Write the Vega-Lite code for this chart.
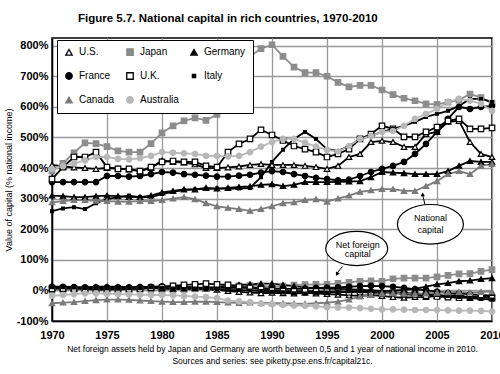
{
"$schema": "https://vega.github.io/schema/vega-lite/v6.json",
"width": 440, "height": 283,
"autosize": {"type": "none"},
"padding": {"left": 52, "top": 38, "right": 8, "bottom": 53},
"background": "white",
"title": {"text": "Figure 5.7. National capital in rich countries, 1970-2010", "anchor": "start", "frame": "group", "dx": 26, "offset": 14, "fontSize": 11.5, "fontWeight": "bold", "color": "black"},
"config": {
  "font": "Liberation Sans Narrow, Liberation Sans, sans-serif",
  "view": {"stroke": "black", "strokeWidth": 1.5},
  "axis": {"gridColor": "#999999", "gridWidth": 1.3, "gridOpacity": 1, "domainColor": "black", "domainWidth": 1.5, "ticks": false, "labelColor": "black", "labelFontWeight": "bold", "labelFontSize": 11, "titleColor": "black"},
  "legend": {"orient": "none", "legendX": 5, "legendY": 2, "columns": 3, "direction": "horizontal", "padding": 7, "strokeColor": "black", "fillColor": "white", "labelFontSize": 10, "labelColor": "black", "symbolSize": 42, "symbolStrokeWidth": 1.3, "rowPadding": 12, "columnPadding": 9, "labelOffset": 5, "gridAlign": "each", "title": null}
},
"datasets": {"main": [
{"c":"U.S.","yr":1970,"n":410,"f":8},{"c":"U.S.","yr":1971,"n":405,"f":7},{"c":"U.S.","yr":1972,"n":402,"f":6},{"c":"U.S.","yr":1973,"n":400,"f":6},{"c":"U.S.","yr":1974,"n":397,"f":6},{"c":"U.S.","yr":1975,"n":400,"f":7},{"c":"U.S.","yr":1976,"n":398,"f":8},{"c":"U.S.","yr":1977,"n":395,"f":7},{"c":"U.S.","yr":1978,"n":390,"f":8},{"c":"U.S.","yr":1979,"n":400,"f":10},
{"c":"U.S.","yr":1980,"n":425,"f":12},{"c":"U.S.","yr":1981,"n":420,"f":12},{"c":"U.S.","yr":1982,"n":418,"f":10},{"c":"U.S.","yr":1983,"n":412,"f":8},{"c":"U.S.","yr":1984,"n":400,"f":5},{"c":"U.S.","yr":1985,"n":400,"f":2},{"c":"U.S.","yr":1986,"n":402,"f":-2},{"c":"U.S.","yr":1987,"n":405,"f":-5},{"c":"U.S.","yr":1988,"n":410,"f":-7},{"c":"U.S.","yr":1989,"n":413,"f":-9},
{"c":"U.S.","yr":1990,"n":410,"f":-8},{"c":"U.S.","yr":1991,"n":410,"f":-9},{"c":"U.S.","yr":1992,"n":410,"f":-10},{"c":"U.S.","yr":1993,"n":407,"f":-8},{"c":"U.S.","yr":1994,"n":403,"f":-10},{"c":"U.S.","yr":1995,"n":397,"f":-12},{"c":"U.S.","yr":1996,"n":407,"f":-14},{"c":"U.S.","yr":1997,"n":436,"f":-16},{"c":"U.S.","yr":1998,"n":446,"f":-18},{"c":"U.S.","yr":1999,"n":485,"f":-15},
{"c":"U.S.","yr":2000,"n":489,"f":-18},{"c":"U.S.","yr":2001,"n":485,"f":-22},{"c":"U.S.","yr":2002,"n":469,"f":-24},{"c":"U.S.","yr":2003,"n":469,"f":-22},{"c":"U.S.","yr":2004,"n":511,"f":-22},{"c":"U.S.","yr":2005,"n":518,"f":-18},{"c":"U.S.","yr":2006,"n":551,"f":-18},{"c":"U.S.","yr":2007,"n":554,"f":-14},{"c":"U.S.","yr":2008,"n":485,"f":-25},{"c":"U.S.","yr":2009,"n":446,"f":-22},{"c":"U.S.","yr":2010,"n":436,"f":-20},

{"c":"Japan","yr":1970,"n":390,"f":0},{"c":"Japan","yr":1971,"n":415,"f":1},{"c":"Japan","yr":1972,"n":450,"f":2},{"c":"Japan","yr":1973,"n":482,"f":1},{"c":"Japan","yr":1974,"n":480,"f":0},{"c":"Japan","yr":1975,"n":470,"f":0},{"c":"Japan","yr":1976,"n":456,"f":1},{"c":"Japan","yr":1977,"n":452,"f":2},{"c":"Japan","yr":1978,"n":452,"f":2},{"c":"Japan","yr":1979,"n":480,"f":1},
{"c":"Japan","yr":1980,"n":515,"f":0},{"c":"Japan","yr":1981,"n":538,"f":1},{"c":"Japan","yr":1982,"n":554,"f":3},{"c":"Japan","yr":1983,"n":564,"f":5},{"c":"Japan","yr":1984,"n":556,"f":7},{"c":"Japan","yr":1985,"n":575,"f":10},{"c":"Japan","yr":1986,"n":640,"f":13},{"c":"Japan","yr":1987,"n":715,"f":15},{"c":"Japan","yr":1988,"n":765,"f":16},{"c":"Japan","yr":1989,"n":790,"f":15},
{"c":"Japan","yr":1990,"n":803,"f":12},{"c":"Japan","yr":1991,"n":765,"f":14},{"c":"Japan","yr":1992,"n":730,"f":17},{"c":"Japan","yr":1993,"n":712,"f":19},{"c":"Japan","yr":1994,"n":712,"f":20},{"c":"Japan","yr":1995,"n":700,"f":20},{"c":"Japan","yr":1996,"n":680,"f":23},{"c":"Japan","yr":1997,"n":665,"f":26},{"c":"Japan","yr":1998,"n":670,"f":30},{"c":"Japan","yr":1999,"n":670,"f":31},
{"c":"Japan","yr":2000,"n":655,"f":30},{"c":"Japan","yr":2001,"n":640,"f":38},{"c":"Japan","yr":2002,"n":628,"f":40},{"c":"Japan","yr":2003,"n":620,"f":40},{"c":"Japan","yr":2004,"n":610,"f":40},{"c":"Japan","yr":2005,"n":608,"f":44},{"c":"Japan","yr":2006,"n":615,"f":49},{"c":"Japan","yr":2007,"n":622,"f":54},{"c":"Japan","yr":2008,"n":642,"f":55},{"c":"Japan","yr":2009,"n":630,"f":62},{"c":"Japan","yr":2010,"n":612,"f":68},

{"c":"Germany","yr":1970,"n":310,"f":8},{"c":"Germany","yr":1971,"n":308,"f":8},{"c":"Germany","yr":1972,"n":305,"f":9},{"c":"Germany","yr":1973,"n":305,"f":10},{"c":"Germany","yr":1974,"n":308,"f":12},{"c":"Germany","yr":1975,"n":310,"f":12},{"c":"Germany","yr":1976,"n":308,"f":12},{"c":"Germany","yr":1977,"n":305,"f":11},{"c":"Germany","yr":1978,"n":305,"f":11},{"c":"Germany","yr":1979,"n":310,"f":9},
{"c":"Germany","yr":1980,"n":320,"f":6},{"c":"Germany","yr":1981,"n":325,"f":5},{"c":"Germany","yr":1982,"n":330,"f":6},{"c":"Germany","yr":1983,"n":330,"f":7},{"c":"Germany","yr":1984,"n":335,"f":9},{"c":"Germany","yr":1985,"n":333,"f":11},{"c":"Germany","yr":1986,"n":335,"f":15},{"c":"Germany","yr":1987,"n":338,"f":18},{"c":"Germany","yr":1988,"n":340,"f":20},{"c":"Germany","yr":1989,"n":345,"f":22},
{"c":"Germany","yr":1990,"n":347,"f":22},{"c":"Germany","yr":1991,"n":341,"f":18},{"c":"Germany","yr":1992,"n":345,"f":14},{"c":"Germany","yr":1993,"n":354,"f":10},{"c":"Germany","yr":1994,"n":354,"f":8},{"c":"Germany","yr":1995,"n":354,"f":5},{"c":"Germany","yr":1996,"n":355,"f":5},{"c":"Germany","yr":1997,"n":356,"f":4},{"c":"Germany","yr":1998,"n":357,"f":2},{"c":"Germany","yr":1999,"n":370,"f":0},
{"c":"Germany","yr":2000,"n":387,"f":-2},{"c":"Germany","yr":2001,"n":385,"f":-1},{"c":"Germany","yr":2002,"n":383,"f":2},{"c":"Germany","yr":2003,"n":380,"f":5},{"c":"Germany","yr":2004,"n":380,"f":12},{"c":"Germany","yr":2005,"n":380,"f":20},{"c":"Germany","yr":2006,"n":390,"f":24},{"c":"Germany","yr":2007,"n":407,"f":30},{"c":"Germany","yr":2008,"n":423,"f":32},{"c":"Germany","yr":2009,"n":420,"f":37},{"c":"Germany","yr":2010,"n":420,"f":40},

{"c":"France","yr":1970,"n":354,"f":12},{"c":"France","yr":1971,"n":354,"f":12},{"c":"France","yr":1972,"n":354,"f":11},{"c":"France","yr":1973,"n":354,"f":10},{"c":"France","yr":1974,"n":354,"f":10},{"c":"France","yr":1975,"n":374,"f":10},{"c":"France","yr":1976,"n":374,"f":10},{"c":"France","yr":1977,"n":372,"f":10},{"c":"France","yr":1978,"n":374,"f":11},{"c":"France","yr":1979,"n":380,"f":12},
{"c":"France","yr":1980,"n":387,"f":13},{"c":"France","yr":1981,"n":385,"f":14},{"c":"France","yr":1982,"n":380,"f":12},{"c":"France","yr":1983,"n":378,"f":10},{"c":"France","yr":1984,"n":375,"f":9},{"c":"France","yr":1985,"n":372,"f":8},{"c":"France","yr":1986,"n":372,"f":8},{"c":"France","yr":1987,"n":375,"f":9},{"c":"France","yr":1988,"n":378,"f":8},{"c":"France","yr":1989,"n":385,"f":7},
{"c":"France","yr":1990,"n":390,"f":6},{"c":"France","yr":1991,"n":387,"f":5},{"c":"France","yr":1992,"n":380,"f":5},{"c":"France","yr":1993,"n":374,"f":6},{"c":"France","yr":1994,"n":368,"f":8},{"c":"France","yr":1995,"n":364,"f":9},{"c":"France","yr":1996,"n":360,"f":10},{"c":"France","yr":1997,"n":362,"f":12},{"c":"France","yr":1998,"n":374,"f":14},{"c":"France","yr":1999,"n":387,"f":15},
{"c":"France","yr":2000,"n":397,"f":14},{"c":"France","yr":2001,"n":407,"f":12},{"c":"France","yr":2002,"n":420,"f":8},{"c":"France","yr":2003,"n":446,"f":4},{"c":"France","yr":2004,"n":479,"f":0},{"c":"France","yr":2005,"n":518,"f":-4},{"c":"France","yr":2006,"n":561,"f":-8},{"c":"France","yr":2007,"n":600,"f":-10},{"c":"France","yr":2008,"n":593,"f":-13},{"c":"France","yr":2009,"n":600,"f":-15},{"c":"France","yr":2010,"n":603,"f":-17},

{"c":"U.K.","yr":1970,"n":364,"f":5},{"c":"U.K.","yr":1971,"n":403,"f":6},{"c":"U.K.","yr":1972,"n":436,"f":6},{"c":"U.K.","yr":1973,"n":436,"f":5},{"c":"U.K.","yr":1974,"n":452,"f":3},{"c":"U.K.","yr":1975,"n":403,"f":3},{"c":"U.K.","yr":1976,"n":397,"f":4},{"c":"U.K.","yr":1977,"n":397,"f":4},{"c":"U.K.","yr":1978,"n":390,"f":6},{"c":"U.K.","yr":1979,"n":403,"f":8},
{"c":"U.K.","yr":1980,"n":420,"f":10},{"c":"U.K.","yr":1981,"n":423,"f":15},{"c":"U.K.","yr":1982,"n":420,"f":18},{"c":"U.K.","yr":1983,"n":420,"f":20},{"c":"U.K.","yr":1984,"n":407,"f":22},{"c":"U.K.","yr":1985,"n":403,"f":20},{"c":"U.K.","yr":1986,"n":452,"f":18},{"c":"U.K.","yr":1987,"n":479,"f":12},{"c":"U.K.","yr":1988,"n":495,"f":8},{"c":"U.K.","yr":1989,"n":525,"f":4},
{"c":"U.K.","yr":1990,"n":508,"f":0},{"c":"U.K.","yr":1991,"n":490,"f":-2},{"c":"U.K.","yr":1992,"n":472,"f":-3},{"c":"U.K.","yr":1993,"n":462,"f":-2},{"c":"U.K.","yr":1994,"n":452,"f":-3},{"c":"U.K.","yr":1995,"n":436,"f":-4},{"c":"U.K.","yr":1996,"n":446,"f":-5},{"c":"U.K.","yr":1997,"n":462,"f":-6},{"c":"U.K.","yr":1998,"n":495,"f":-4},{"c":"U.K.","yr":1999,"n":511,"f":-8},
{"c":"U.K.","yr":2000,"n":538,"f":-10},{"c":"U.K.","yr":2001,"n":528,"f":-8},{"c":"U.K.","yr":2002,"n":502,"f":-12},{"c":"U.K.","yr":2003,"n":502,"f":-15},{"c":"U.K.","yr":2004,"n":518,"f":-17},{"c":"U.K.","yr":2005,"n":534,"f":-20},{"c":"U.K.","yr":2006,"n":554,"f":-22},{"c":"U.K.","yr":2007,"n":561,"f":-24},{"c":"U.K.","yr":2008,"n":528,"f":-20},{"c":"U.K.","yr":2009,"n":528,"f":-22},{"c":"U.K.","yr":2010,"n":531,"f":-25},

{"c":"Italy","yr":1970,"n":259,"f":10},{"c":"Italy","yr":1971,"n":268,"f":10},{"c":"Italy","yr":1972,"n":272,"f":9},{"c":"Italy","yr":1973,"n":266,"f":8},{"c":"Italy","yr":1974,"n":285,"f":6},{"c":"Italy","yr":1975,"n":298,"f":6},{"c":"Italy","yr":1976,"n":305,"f":5},{"c":"Italy","yr":1977,"n":310,"f":7},{"c":"Italy","yr":1978,"n":305,"f":8},{"c":"Italy","yr":1979,"n":305,"f":10},
{"c":"Italy","yr":1980,"n":315,"f":8},{"c":"Italy","yr":1981,"n":322,"f":6},{"c":"Italy","yr":1982,"n":328,"f":5},{"c":"Italy","yr":1983,"n":330,"f":5},{"c":"Italy","yr":1984,"n":332,"f":4},{"c":"Italy","yr":1985,"n":333,"f":3},{"c":"Italy","yr":1986,"n":333,"f":2},{"c":"Italy","yr":1987,"n":333,"f":1},{"c":"Italy","yr":1988,"n":335,"f":0},{"c":"Italy","yr":1989,"n":370,"f":-2},
{"c":"Italy","yr":1990,"n":420,"f":-4},{"c":"Italy","yr":1991,"n":460,"f":-6},{"c":"Italy","yr":1992,"n":495,"f":-9},{"c":"Italy","yr":1993,"n":518,"f":-10},{"c":"Italy","yr":1994,"n":495,"f":-8},{"c":"Italy","yr":1995,"n":462,"f":-7},{"c":"Italy","yr":1996,"n":456,"f":-5},{"c":"Italy","yr":1997,"n":472,"f":-3},{"c":"Italy","yr":1998,"n":495,"f":-2},{"c":"Italy","yr":1999,"n":505,"f":-3},
{"c":"Italy","yr":2000,"n":518,"f":-5},{"c":"Italy","yr":2001,"n":528,"f":-6},{"c":"Italy","yr":2002,"n":538,"f":-8},{"c":"Italy","yr":2003,"n":551,"f":-10},{"c":"Italy","yr":2004,"n":567,"f":-12},{"c":"Italy","yr":2005,"n":577,"f":-15},{"c":"Italy","yr":2006,"n":587,"f":-18},{"c":"Italy","yr":2007,"n":603,"f":-22},{"c":"Italy","yr":2008,"n":626,"f":-25},{"c":"Italy","yr":2009,"n":626,"f":-28},{"c":"Italy","yr":2010,"n":616,"f":-30},

{"c":"Canada","yr":1970,"n":288,"f":-42},{"c":"Canada","yr":1971,"n":292,"f":-40},{"c":"Canada","yr":1972,"n":295,"f":-38},{"c":"Canada","yr":1973,"n":295,"f":-35},{"c":"Canada","yr":1974,"n":293,"f":-32},{"c":"Canada","yr":1975,"n":292,"f":-30},{"c":"Canada","yr":1976,"n":290,"f":-30},{"c":"Canada","yr":1977,"n":290,"f":-31},{"c":"Canada","yr":1978,"n":292,"f":-33},{"c":"Canada","yr":1979,"n":292,"f":-35},
{"c":"Canada","yr":1980,"n":295,"f":-37},{"c":"Canada","yr":1981,"n":300,"f":-38},{"c":"Canada","yr":1982,"n":305,"f":-38},{"c":"Canada","yr":1983,"n":298,"f":-37},{"c":"Canada","yr":1984,"n":285,"f":-37},{"c":"Canada","yr":1985,"n":275,"f":-38},{"c":"Canada","yr":1986,"n":270,"f":-40},{"c":"Canada","yr":1987,"n":266,"f":-41},{"c":"Canada","yr":1988,"n":260,"f":-40},{"c":"Canada","yr":1989,"n":266,"f":-41},
{"c":"Canada","yr":1990,"n":275,"f":-42},{"c":"Canada","yr":1991,"n":285,"f":-42},{"c":"Canada","yr":1992,"n":288,"f":-43},{"c":"Canada","yr":1993,"n":295,"f":-44},{"c":"Canada","yr":1994,"n":298,"f":-42},{"c":"Canada","yr":1995,"n":290,"f":-40},{"c":"Canada","yr":1996,"n":300,"f":-37},{"c":"Canada","yr":1997,"n":310,"f":-30},{"c":"Canada","yr":1998,"n":322,"f":-20},{"c":"Canada","yr":1999,"n":327,"f":-15},
{"c":"Canada","yr":2000,"n":331,"f":-10},{"c":"Canada","yr":2001,"n":331,"f":-9},{"c":"Canada","yr":2002,"n":325,"f":-10},{"c":"Canada","yr":2003,"n":325,"f":-11},{"c":"Canada","yr":2004,"n":341,"f":-10},{"c":"Canada","yr":2005,"n":357,"f":-8},{"c":"Canada","yr":2006,"n":380,"f":-6},{"c":"Canada","yr":2007,"n":390,"f":-5},{"c":"Canada","yr":2008,"n":380,"f":-7},{"c":"Canada","yr":2009,"n":407,"f":-5},{"c":"Canada","yr":2010,"n":413,"f":-4},

{"c":"Australia","yr":1970,"n":397,"f":-18},{"c":"Australia","yr":1971,"n":407,"f":-15},{"c":"Australia","yr":1972,"n":415,"f":-12},{"c":"Australia","yr":1973,"n":425,"f":-10},{"c":"Australia","yr":1974,"n":436,"f":-10},{"c":"Australia","yr":1975,"n":436,"f":-11},{"c":"Australia","yr":1976,"n":430,"f":-12},{"c":"Australia","yr":1977,"n":428,"f":-13},{"c":"Australia","yr":1978,"n":432,"f":-14},{"c":"Australia","yr":1979,"n":440,"f":-15},
{"c":"Australia","yr":1980,"n":452,"f":-15},{"c":"Australia","yr":1981,"n":450,"f":-16},{"c":"Australia","yr":1982,"n":448,"f":-18},{"c":"Australia","yr":1983,"n":446,"f":-20},{"c":"Australia","yr":1984,"n":440,"f":-22},{"c":"Australia","yr":1985,"n":440,"f":-25},{"c":"Australia","yr":1986,"n":438,"f":-33},{"c":"Australia","yr":1987,"n":440,"f":-36},{"c":"Australia","yr":1988,"n":452,"f":-38},{"c":"Australia","yr":1989,"n":470,"f":-43},
{"c":"Australia","yr":1990,"n":485,"f":-45},{"c":"Australia","yr":1991,"n":495,"f":-47},{"c":"Australia","yr":1992,"n":495,"f":-49},{"c":"Australia","yr":1993,"n":483,"f":-50},{"c":"Australia","yr":1994,"n":470,"f":-52},{"c":"Australia","yr":1995,"n":459,"f":-55},{"c":"Australia","yr":1996,"n":454,"f":-56},{"c":"Australia","yr":1997,"n":472,"f":-56},{"c":"Australia","yr":1998,"n":495,"f":-58},{"c":"Australia","yr":1999,"n":505,"f":-60},
{"c":"Australia","yr":2000,"n":518,"f":-62},{"c":"Australia","yr":2001,"n":521,"f":-62},{"c":"Australia","yr":2002,"n":538,"f":-63},{"c":"Australia","yr":2003,"n":561,"f":-64},{"c":"Australia","yr":2004,"n":577,"f":-64},{"c":"Australia","yr":2005,"n":593,"f":-64},{"c":"Australia","yr":2006,"n":616,"f":-65},{"c":"Australia","yr":2007,"n":626,"f":-66},{"c":"Australia","yr":2008,"n":620,"f":-66},{"c":"Australia","yr":2009,"n":610,"f":-67},{"c":"Australia","yr":2010,"n":587,"f":-69}
]},
"layer": [
  {
    "data": {"name": "main"},
    "transform": [{"fold": ["n", "f"], "as": ["kind", "val"]}],
    "encoding": {
      "x": {"field": "yr", "type": "quantitative", "scale": {"domain": [1970, 2010], "nice": false, "zero": false},
            "axis": {"values": [1970,1975,1980,1985,1990,1995,2000,2005,2010], "tickCount": 12, "format": "d", "labelPadding": 8, "labelFlush": false, "labelOverlap": false,
                     "title": ["Net foreign assets held by Japan and Germany are worth between 0,5 and 1 year of national income in 2010.", "Sources and series: see piketty.pse.ens.fr/capital21c."],
                     "titleFontSize": 8.5, "titleFontWeight": "normal", "titlePadding": 4, "titleLineHeight": 12}},
      "y": {"field": "val", "type": "quantitative", "scale": {"domain": [-100, 825], "nice": false, "zero": false},
            "axis": {"values": [-100,0,100,200,300,400,500,600,700,800], "tickCount": 12, "labelExpr": "datum.value + '%'", "labelPadding": 4, "labelOverlap": false,
                     "title": "Value of capital (% national income)", "titleFontSize": 9, "titleFontWeight": "normal", "titlePadding": 3}},
      "stroke": {"field": "c", "type": "nominal", "scale": {"domain": ["U.S.","Japan","Germany","France","U.K.","Italy","Canada","Australia"], "range": ["#000000","#8c8c8c","#000000","#000000","#000000","#000000","#7a7a7a","#b8b8b8"]}},
      "detail": {"field": "kind"}
    },
    "layer": [
      {"mark": {"type": "line", "strokeWidth": 1.8}},
      {
        "mark": {"type": "point", "filled": true, "opacity": 1, "size": 30, "strokeWidth": 1.2},
        "encoding": {
          "fill": {"field": "c", "type": "nominal", "scale": {"domain": ["U.S.","Japan","Germany","France","U.K.","Italy","Canada","Australia"], "range": ["#ffffff","#8c8c8c","#000000","#000000","#ffffff","#000000","#7a7a7a","#b8b8b8"]}},
          "shape": {"field": "c", "type": "nominal", "scale": {"domain": ["U.S.","Japan","Germany","France","U.K.","Italy","Canada","Australia"], "range": ["triangle-up","square","triangle-up","circle","square","M-0.5,-0.5H0.5V0.5H-0.5Z","triangle-up","circle"]}}
        }
      }
    ]
  },
  {
    "data": {"values": [{"yr": 2004.4, "val": 216}]},
    "mark": {"type": "point", "shape": "M-1,0A1,0.6 0 1,1 1,0A1,0.6 0 1,1 -1,0Z", "size": 4356, "filled": true, "fill": "white", "stroke": "black", "strokeWidth": 1.2, "opacity": 1},
    "encoding": {"x": {"field": "yr", "type": "quantitative"}, "y": {"field": "val", "type": "quantitative"}}
  },
  {
    "data": {"values": [{"yr": 1997.7, "val": 137}]},
    "mark": {"type": "point", "shape": "M-1,0A1,0.55 0 1,1 1,0A1,0.55 0 1,1 -1,0Z", "size": 3844, "filled": true, "fill": "white", "stroke": "black", "strokeWidth": 1.2, "opacity": 1},
    "encoding": {"x": {"field": "yr", "type": "quantitative"}, "y": {"field": "val", "type": "quantitative"}}
  },
  {
    "data": {"values": [{"yr": 2003.9, "val": 281, "yr2": 2003.7, "val2": 312}, {"yr": 1996.4, "val": 78, "yr2": 1995.9, "val2": 55}]},
    "mark": {"type": "rule", "color": "black", "strokeWidth": 1},
    "encoding": {"x": {"field": "yr", "type": "quantitative"}, "y": {"field": "val", "type": "quantitative"}, "x2": {"field": "yr2"}, "y2": {"field": "val2"}}
  },
  {
    "data": {"values": [{"yr": 2003.7, "val": 314}]},
    "mark": {"type": "point", "shape": "triangle-up", "size": 20, "filled": true, "color": "black", "opacity": 1},
    "encoding": {"x": {"field": "yr", "type": "quantitative"}, "y": {"field": "val", "type": "quantitative"}}
  },
  {
    "data": {"values": [{"yr": 1995.9, "val": 53}]},
    "mark": {"type": "point", "shape": "triangle-down", "angle": 30, "size": 20, "filled": true, "color": "black", "opacity": 1},
    "encoding": {"x": {"field": "yr", "type": "quantitative"}, "y": {"field": "val", "type": "quantitative"}}
  },
  {
    "data": {"values": [{"yr": 2004.4, "val": 237, "t": "National"}, {"yr": 2004.4, "val": 196, "t": "capital"}, {"yr": 1997.8, "val": 150, "t": "Net foreign"}, {"yr": 1997.8, "val": 118, "t": "capital"}]},
    "mark": {"type": "text", "fontSize": 9, "color": "black", "align": "center", "baseline": "middle"},
    "encoding": {"x": {"field": "yr", "type": "quantitative"}, "y": {"field": "val", "type": "quantitative"}, "text": {"field": "t"}}
  }
]
}
